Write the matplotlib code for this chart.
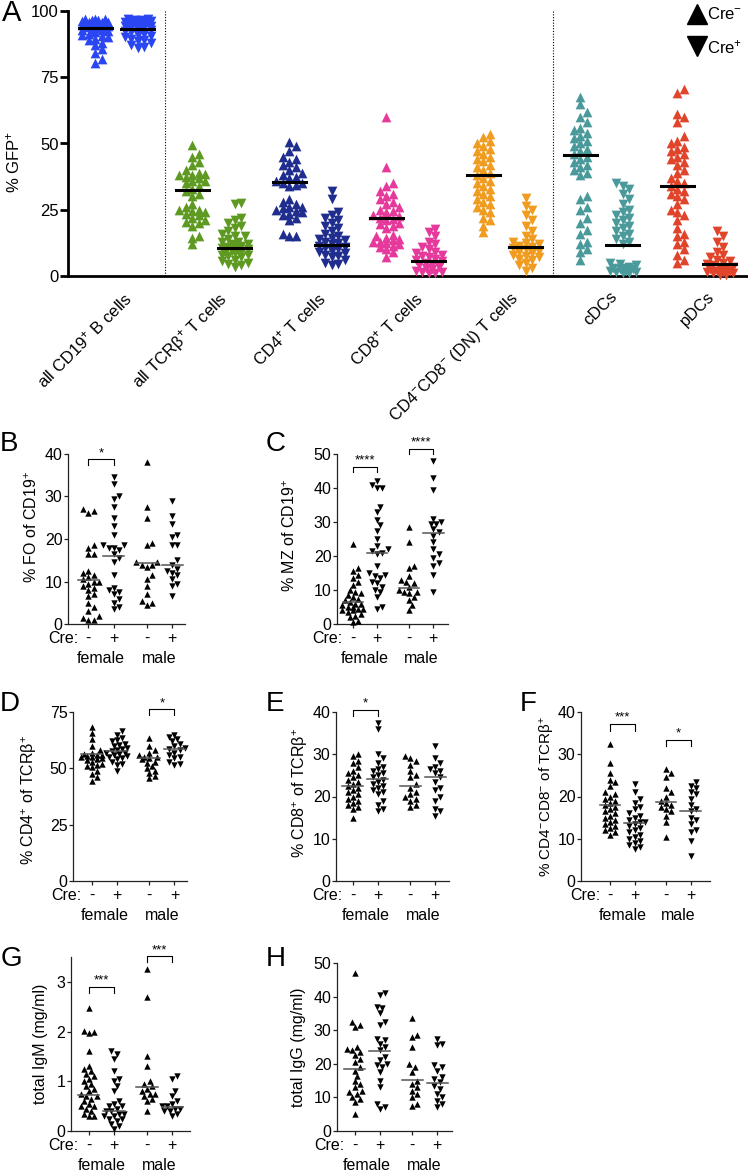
import numpy as np
import matplotlib
matplotlib.use('Agg')
import matplotlib.pyplot as plt
import matplotlib.transforms as mtransforms
from matplotlib.lines import Line2D

plt.rcParams['font.family'] = ['Liberation Sans', 'DejaVu Sans']
plt.rcParams['mathtext.fontset'] = 'custom'
plt.rcParams['mathtext.rm'] = 'Liberation Sans'
plt.rcParams['mathtext.it'] = 'Liberation Sans:italic'
plt.rcParams['mathtext.bf'] = 'Liberation Sans:bold'

W, H = 748, 1171

# ---------------- Panel A data ----------------
A_CATEGORIES = ['all CD19$^{+}$ B cells', 'all TCRβ$^{+}$ T cells', 'CD4$^{+}$ T cells',
                'CD8$^{+}$ T cells', 'CD4$^{-}$CD8$^{-}$ (DN) T cells', 'cDCs', 'pDCs']
A_COLORS = ['#2a45f2', '#5e9a22', '#1f2e8e', '#e53a9b', '#f09c20', '#4b9a9b', '#e0452b']

A_NEG = [
    [97, 97, 96.8, 96.5, 96.5, 96.2, 96, 96, 95.8, 95.5, 95.5, 95.2, 95, 95, 94.8, 94.5, 94.5,
     94.2, 94, 94, 93.8, 93.5, 93.2, 93, 92.8, 92.5, 92, 91.5, 91, 90.5, 90, 89.5, 89, 88, 87,
     85.5, 84, 82, 80.5],
    [49.5, 46, 45, 43, 42, 40, 39, 38.5, 38, 38, 37.5, 37, 36, 36, 35, 34, 33, 32, 31, 30, 27,
     26, 25, 25, 24.5, 24, 23.5, 23, 22, 21, 20.5, 20, 19, 15, 14.5, 12],
    [50.5, 49, 47, 45, 44, 43, 42, 41, 40, 39, 38, 37.5, 37, 36, 35, 35, 34.5, 34, 29, 28, 27,
     26, 26, 25.5, 25, 24.5, 24, 23.5, 23, 22, 21, 16, 15, 15],
    [60, 41, 35, 34, 32, 31, 30, 29, 28, 27, 26, 25, 24.5, 24, 23, 22.5, 22, 21.5, 21, 20,
     19.5, 19, 18, 15.5, 15, 14.5, 14, 13.5, 13, 13, 12.5, 12, 11.5, 11, 10, 9, 7],
    [53.5, 52.5, 51, 50, 49, 48, 47, 46, 45, 44, 43.5, 42, 41, 40, 39, 38, 37, 36, 35, 34, 33,
     32, 31, 30, 29, 28, 27, 26, 25, 24, 22, 21, 19, 16.5],
    [67.5, 65, 62, 60, 58, 56, 55, 54, 53, 52, 51, 50, 49, 48, 47, 46, 45, 44, 43, 42, 41, 40,
     39, 38, 30, 29, 26, 25, 22, 20, 17.5, 16, 13, 12, 10, 9, 6],
    [70.5, 69, 61, 60, 58, 53, 51, 50, 48.5, 48, 47, 46, 45, 44, 43, 42, 40, 39, 37, 36, 35,
     34, 33, 32, 31, 30, 29, 27, 25, 24, 23, 21, 18, 16, 15, 13, 12, 10, 8, 6, 5],
]
A_POS = [
    [97, 96.8, 96.5, 96.5, 96.2, 96, 96, 95.8, 95.5, 95.5, 95.2, 95, 94.8, 94.5, 94.2, 94, 93.8,
     93.5, 93, 92.5, 92, 91.5, 91, 90.5, 90, 89.5, 89, 88.5, 88, 87, 86.5, 86],
    [27.5, 27, 22, 21, 20, 19, 18, 17, 16, 15, 15, 14, 13, 13, 12, 12, 11.5, 11, 11, 10.5, 10,
     10, 9.5, 9, 9, 8.5, 8, 8, 7.5, 7, 6, 5.5, 5, 4.5, 4, 3.5],
    [32, 29, 24, 23, 22, 21, 20, 19, 18, 17, 16, 15, 14.5, 14, 13.5, 13, 12.5, 12, 11.5, 11,
     10.5, 10, 9.5, 9, 8.5, 8, 7.5, 7, 6, 5, 4.5, 4],
    [17.8, 16.5, 15, 13, 12, 11, 10, 9, 8.5, 8, 7.5, 7, 6.5, 6, 5.5, 5, 4.5, 4, 3.5, 3, 2.5, 2,
     1.5, 1.5, 1, 1],
    [29.5, 26.5, 25, 23, 21, 19, 17, 15, 14, 13, 12.5, 12, 11.5, 11, 10.5, 10, 9.5, 9, 8.5, 8,
     7.5, 7, 6.5, 6, 5, 4, 3, 2],
    [35, 34, 33, 31, 29, 27, 25, 24, 23, 22, 21, 20, 19, 18, 17, 16, 15, 14, 13, 12, 5, 4.5, 4,
     3.5, 3, 3, 2.5, 2.5, 2, 2, 1.5, 1.5, 1, 1],
    [17, 15, 13, 11, 9, 8, 7, 6, 5.5, 5, 4.5, 4, 3.5, 3, 3, 2.5, 2, 2, 1.5, 1.5, 1, 1, 0.5, 0.5],
]
A_MEANS_NEG = [93.4, 32.6, 35.3, 21.7, 38.2, 45.8, 33.9]
A_MEANS_POS = [93.1, 10.6, 11.8, 5.5, 10.8, 11.7, 4.4]

# ---------------- Panels B-H data (female Cre-, female Cre+, male Cre-, male Cre+) -------
FO = [
    [27, 26.5, 26, 18.5, 18, 16.5, 16.5, 12.5, 12, 11.5, 11, 10.5, 10, 10, 9.5, 9, 8.5, 8, 7,
     6.5, 5, 4, 3, 2, 1.5, 1, 1],
    [34.5, 33, 30, 29.5, 27.5, 25, 23, 21, 18.5, 18.5, 18, 18, 17.5, 16.5, 15.5, 14.5, 11.5,
     8.5, 8, 7.5, 7, 6, 5, 4, 3.5],
    [38, 27.5, 25, 19, 18.5, 14.5, 14.5, 14, 14, 13.5, 11.5, 10.5, 9, 7, 5.5, 5, 4.5],
    [29, 25.5, 23.5, 21, 20.5, 18.5, 18.5, 15, 14, 13, 12.5, 12, 11.5, 10.5, 9.5, 9, 6.5],
]
FO_MEANS = [10.3, 16.1, 14.4, 13.8]

MZ = [
    [23.5, 16.5, 15.5, 14.5, 13.5, 12.5, 11.5, 10, 9.5, 9, 8.5, 8, 7.5, 7, 6.5, 6, 6, 5.5, 5, 5,
     4.5, 4.5, 4, 4, 3.5, 3, 2.5, 2, 1, 0.5],
    [42, 41, 40, 40, 34.5, 33, 30.5, 29, 27.5, 25, 23, 22, 21.5, 21, 20.5, 17, 15, 14.5, 14,
     13.5, 12.5, 12, 11, 10, 9.5, 8, 5, 4.5],
    [28.5, 24, 17, 16.5, 14, 13, 12.5, 12, 11, 10, 9.5, 9.5, 9, 8, 7, 5.5, 4],
    [48, 43, 39.5, 31, 30, 29.5, 29.5, 28, 27, 26, 24, 22, 20.5, 19.5, 18, 17, 14.5, 9.5],
]
MZ_MEANS = [6.4, 20.8, 10.7, 26.8]

CD4 = [
    [68.5, 65.5, 63, 60, 58, 57, 56.5, 56, 56, 55.5, 55, 55, 54.5, 54, 53.5, 53, 52, 51.5, 51,
     50.5, 49, 47.5, 46, 44.5],
    [66.5, 65, 63.5, 62.5, 62, 61, 60.5, 60, 59, 58.5, 58, 57.5, 57, 57, 56.5, 56, 55.5, 55,
     54.5, 54, 53, 52, 51.5, 49],
    [63.5, 60, 58, 57, 56, 55, 55, 54.5, 54, 53, 52.5, 51, 50, 49, 48, 46.5, 45.5],
    [65, 64, 63, 62, 61, 60, 59, 58.5, 58, 57, 56, 55, 54.5, 53, 52, 51.5],
]
CD4_MEANS = [56.3, 57.5, 54.5, 58.5]

CD8 = [
    [30, 29.5, 28.5, 28, 27, 26, 25.5, 25, 24.5, 24, 23.5, 23, 22.5, 22, 21.5, 21, 20.5, 20,
     19.5, 19, 18.5, 18, 17.5, 17, 15],
    [37.5, 36, 30, 29, 28, 27, 26.5, 26, 25.5, 25, 24.5, 24, 23.5, 23, 22.5, 22, 21.5, 21,
     20.5, 19, 18, 17, 16.5],
    [29.5, 29, 28.5, 27.5, 26, 25, 24.5, 23, 22, 21, 20.5, 20, 19.5, 19, 18, 17.5],
    [32, 29, 28, 27, 26.5, 26, 25.5, 24.5, 23.5, 22, 21.5, 20, 19, 17, 16.5, 15.5],
]
CD8_MEANS = [22.6, 24.1, 22.6, 24.6]

DN = [
    [32.5, 28, 25.5, 24, 23.5, 22.5, 21, 20.5, 20, 19.5, 19, 18.5, 18, 17.5, 17, 16.5, 16, 15.5,
     15, 14.5, 14, 13.5, 13, 12.5, 12, 11.5, 11],
    [23, 21, 19.5, 18.5, 17.5, 17, 16, 15.5, 15, 14.5, 14, 14, 13.5, 13, 12.5, 12, 11.5, 11,
     10.5, 10, 9.5, 9, 8.5, 8, 7.5],
    [26.5, 25.5, 24.5, 22, 21, 20, 19, 18.5, 18, 17.5, 17, 16.5, 15.5, 14, 10.5],
    [23.5, 22.5, 22, 21, 20.5, 19.5, 18, 17, 16.5, 15, 14.5, 13.5, 12, 11.5, 9.5, 6],
]
DN_MEANS = [17.9, 13.7, 18.6, 16.6]

IGM = [
    [2.48, 2.02, 2.0, 1.97, 1.6, 1.3, 1.25, 1.2, 1.15, 1.1, 1.05, 1.0, 0.95, 0.9, 0.85, 0.8,
     0.75, 0.7, 0.7, 0.65, 0.6, 0.55, 0.5, 0.5, 0.45, 0.4, 0.35, 0.3, 0.3],
    [1.6, 1.55, 1.45, 1.2, 1.05, 1.0, 0.9, 0.8, 0.6, 0.55, 0.5, 0.5, 0.45, 0.4, 0.4, 0.35, 0.35,
     0.3, 0.3, 0.25, 0.25, 0.2, 0.15, 0.1, 0.05],
    [3.25, 2.7, 1.5, 1.3, 1.0, 0.95, 0.9, 0.85, 0.8, 0.75, 0.75, 0.7, 0.65, 0.6, 0.4],
    [1.1, 1.05, 0.8, 0.7, 0.6, 0.55, 0.5, 0.5, 0.45, 0.45, 0.4, 0.4, 0.35, 0.3],
]
IGM_MEANS = [0.73, 0.40, 0.88, 0.48]

IGG = [
    [47, 32.5, 31.5, 31, 25, 24.5, 24, 23.5, 22.5, 21.5, 20.5, 19, 18, 16.5, 15, 14, 13, 12,
     11.5, 11, 10, 9.5, 8.5, 5],
    [41, 40.5, 37, 36.5, 35, 32.5, 31.5, 27.5, 27, 26, 25, 24, 22, 21, 20, 19.5, 19, 17.5, 15,
     13, 8, 7, 6.5],
    [33.5, 28.5, 28, 25, 20, 19, 17.5, 15, 14, 13, 12, 11, 10, 8, 7.5],
    [27.5, 26, 25.5, 19.5, 19, 18, 16, 15.5, 14.5, 13.5, 12.5, 11, 10, 9, 8, 7],
]
IGG_MEANS = [18.6, 23.7, 15.1, 14.4]

POS = [0, 1, 2.3, 3.3]

fig = plt.figure(figsize=(W / 100, H / 100), dpi=100)


def add_ax(l, t, r, b):
    return fig.add_axes([l / W, 1 - b / H, (r - l) / W, (b - t) / H])


def swarm(ax, x0, ys, sep, maxw):
    # simple beeswarm in pixel space
    pts = ax.transData.transform(np.column_stack([np.full(len(ys), x0), ys]))
    order = np.argsort(pts[:, 1])
    placed = []
    offs = np.zeros(len(ys))
    step = sep * 0.5
    for k in order:
        y = pts[k, 1]
        best, best_d = 0.0, -1
        for j in range(0, 80):
            dx = ((j + 1) // 2) * step * (1 if j % 2 else -1)
            if abs(dx) > maxw:
                break
            d = min([np.hypot(dx - px, y - py) for px, py in placed] + [1e9])
            if d >= sep:
                best = dx
                break
            if d > best_d:
                best, best_d = dx, d
        placed.append((best, y))
        offs[k] = best
    xd = ax.transData.inverted().transform(np.column_stack([pts[:, 0] + offs, pts[:, 1]]))[:, 0]
    return xd


# ---------------- Panel A ----------------
axA = add_ax(68, 11, 747, 276)
axA.set_xlim(-0.5, 6.5)
axA.set_ylim(0, 100)
for sp in ['top', 'right']:
    axA.spines[sp].set_visible(False)
for sp in ['left', 'bottom']:
    axA.spines[sp].set_linewidth(2)
axA.set_xticks([])
axA.set_yticks([0, 25, 50, 75, 100])
axA.tick_params(axis='y', length=5.5, width=2, labelsize=12, pad=1)
axA.set_ylabel('% GFP$^{+}$', fontsize=12)
axA.yaxis.set_label_coords(-0.068, 0.43)

for xs in [0.5, 4.5]:
    axA.plot([xs, xs], [0, 100], color='k', lw=0.8, ls=(0, (1, 1.5)))

for i in range(len(A_CATEGORIES)):
    for vals, m, dx, mk in [(A_NEG[i], A_MEANS_NEG[i], -0.22, '^'), (A_POS[i], A_MEANS_POS[i], 0.22, 'v')]:
        xs = swarm(axA, i + dx, vals, 6.5, 15)
        axA.scatter(xs, vals, marker=mk, s=7 ** 2, color=A_COLORS[i], linewidths=0,
                    clip_on=False, zorder=3)
        axA.plot([i + dx - 0.17, i + dx + 0.17], [m, m], color='k', lw=2.2, zorder=4)

tr = mtransforms.blended_transform_factory(axA.transData, axA.transAxes)
for i, lab in enumerate(A_CATEGORIES):
    axA.text(i + 0.19, -0.05, lab, transform=tr, rotation=45, ha='right', va='top',
             fontsize=12)

fig.text(12 / W, 1 - 13 / H, 'A', fontsize=21, ha='center', va='center')

# legend
fig.add_artist(Line2D([697 / W], [1 - 14 / H], marker='^', ms=15, color='k', lw=0,
                      transform=fig.transFigure))
fig.add_artist(Line2D([697 / W], [1 - 46 / H], marker='v', ms=15, color='k', lw=0,
                      transform=fig.transFigure))
fig.text(707 / W, 1 - 14 / H, 'Cre$^{-}$', fontsize=12, ha='left', va='center')
fig.text(707 / W, 1 - 47 / H, 'Cre$^{+}$', fontsize=12, ha='left', va='center')


# ---------------- small panels ----------------
def small_panel(rect, groups, means, xlim, ylim, yticks, ylabel, ylab_xy, letter, letter_xy,
                brackets, ylab_size=11.5):
    ax = add_ax(*rect)
    ax.set_xlim(*xlim)
    ax.set_ylim(*ylim)
    for sp in ['top', 'right']:
        ax.spines[sp].set_visible(False)
    for sp in ['left', 'bottom']:
        ax.spines[sp].set_linewidth(0.9)
        ax.spines[sp].set_color('#222222')
    ax.set_yticks(yticks)
    ax.tick_params(axis='y', length=3, width=0.9, labelsize=11.5, pad=1, color='#222222')
    ax.set_xticks(POS)
    ax.set_xticklabels([])
    ax.tick_params(axis='x', length=3, width=0.9, color='#222222')
    ax.set_ylabel(ylabel, fontsize=ylab_size)
    ax.yaxis.set_label_coords(*ylab_xy)

    for i, (vals, m) in enumerate(zip(groups, means)):
        mk = '^' if i % 2 == 0 else 'v'
        xs = swarm(ax, POS[i], vals, 5.2, 11)
        ax.scatter(xs, vals, marker=mk, s=4.6 ** 2, color='k', linewidths=0, clip_on=False,
                   zorder=3)
        ax.plot([POS[i] - 0.42, POS[i] + 0.42], [m, m], color='#555555', lw=1.1, zorder=4)

    xf = ('data', 'axes fraction')
    for p, s in zip(POS, ['-', '+', '-', '+']):
        ax.annotate(s, xy=(p, 0), xycoords=xf, xytext=(0, -19), textcoords='offset pixels',
                    ha='center', va='baseline', fontsize=11.5, annotation_clip=False)
    ax.annotate('Cre:', xy=(POS[0], 0), xycoords=xf, xytext=(-10, -19),
                textcoords='offset pixels', ha='right', va='baseline', fontsize=11.5,
                annotation_clip=False)
    ax.annotate('female', xy=((POS[0] + POS[1]) / 2, 0), xycoords=xf, xytext=(0, -39),
                textcoords='offset pixels', ha='center', va='baseline', fontsize=11.5,
                annotation_clip=False)
    ax.annotate('male', xy=((POS[2] + POS[3]) / 2, 0), xycoords=xf, xytext=(0, -39),
                textcoords='offset pixels', ha='center', va='baseline', fontsize=11.5,
                annotation_clip=False)

    for i0, i1, yt, yb, lab in brackets:
        ax.plot([POS[i0], POS[i0], POS[i1], POS[i1]], [yb, yt, yt, yb], color='k', lw=0.8,
                clip_on=False)
        ax.annotate(lab, xy=((POS[i0] + POS[i1]) / 2, yt), xytext=(0, 0),
                    textcoords='offset pixels', ha='center', va='bottom', fontsize=9.5,
                    annotation_clip=False)

    fig.text(letter_xy[0] / W, 1 - letter_xy[1] / H, letter, fontsize=20, ha='center',
             va='center')
    return ax


small_panel((68, 454, 185, 624), FO, FO_MEANS, (-0.8, 3.8), (0, 40), [0, 10, 20, 30, 40],
            '% FO of CD19$^{+}$', (-0.24, 0.57), 'B', (9, 444),
            [(0, 1, 38.8, 37.3, '*')])
small_panel((337, 454, 448, 624), MZ, MZ_MEANS, (-0.65, 3.9), (0, 50), [0, 10, 20, 30, 40, 50],
            '% MZ of CD19$^{+}$', (-0.35, 0.52), 'C', (276, 444),
            [(0, 1, 46.2, 44.7, '****'), (2, 3, 51.5, 50.0, '****')])
small_panel((73, 712, 187, 881), CD4, CD4_MEANS, (-0.75, 3.8), (0, 75), [0, 25, 50, 75],
            '% CD4$^{+}$ of TCRβ$^{+}$', (-0.30, 0.48), 'D', (10, 704),
            [(2, 3, 76.3, 73.7, '*')])
small_panel((336, 712, 449, 881), CD8, CD8_MEANS, (-0.68, 3.85), (0, 40), [0, 10, 20, 30, 40],
            '% CD8$^{+}$ of TCRβ$^{+}$', (-0.23, 0.52), 'E', (275, 704),
            [(0, 1, 40.5, 39.0, '*')])
small_panel((581, 712, 710, 881), DN, DN_MEANS, (-1.2, 4.1), (0, 40), [0, 10, 20, 30, 40],
            '% CD4$^{-}$CD8$^{-}$ of TCRβ$^{+}$', (-0.185, 0.5), 'F', (528, 704),
            [(0, 1, 37.2, 35.5, '***'), (2, 3, 33.4, 32.0, '*')], ylab_size=11)
small_panel((71, 957, 190, 1131), IGM, IGM_MEANS, (-0.7, 4.0), (0, 3.5), [0, 1, 2, 3],
            'total IgM (mg/ml)', (-0.19, 0.5), 'G', (11, 959),
            [(0, 1, 2.9, 2.78, '***'), (2, 3, 3.52, 3.4, '***')])
small_panel((337, 963, 452, 1131), IGG, IGG_MEANS, (-0.7, 3.9), (0, 50), [0, 10, 20, 30, 40, 50],
            'total IgG (mg/ml)', (-0.27, 0.5), 'H', (276, 959), [])

fig.savefig('out.png', dpi=100)
